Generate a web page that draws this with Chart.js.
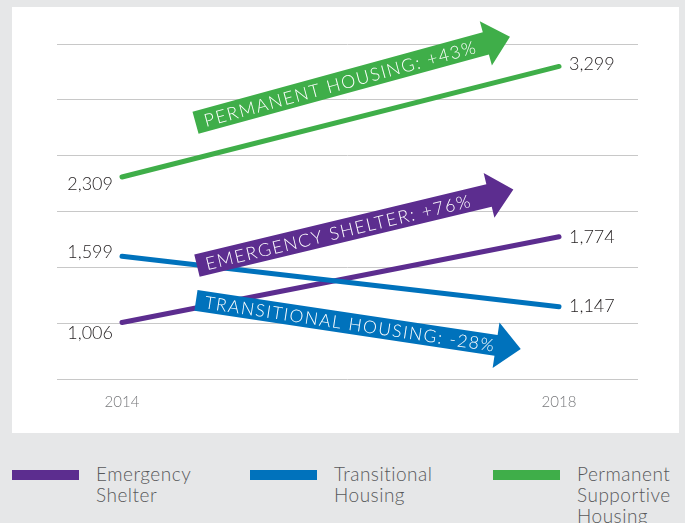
<!DOCTYPE html>
<html>
<head>
<meta charset="utf-8">
<script src="https://cdn.jsdelivr.net/npm/chart.js@4"></script>
<style>
  html, body { margin: 0; padding: 0; }
  body { width: 685px; height: 523px; background: #e6e7e8; position: relative; overflow: hidden;
         font-family: 'Lato', 'Open Sans', sans-serif; }
  #panel { position: absolute; left: 12px; top: 7px; width: 667px; height: 426px; background: #fff; }
  #legend { position: absolute; left: 12px; top: 463px; display: flex; }
  .item { display: flex; align-items: flex-start; }
  .swatch { width: 67px; height: 10px; margin-top: 7px; margin-right: 17px; flex: none; }
  .label { width: 116px; font-size: 19px; line-height: 21px; letter-spacing: 0.5px; color: #58595b; font-weight: 300; }
</style>
</head>
<body>
<div id="panel"><canvas id="chart"></canvas></div>
<div id="legend"></div>
<script>
// ---- data ----
const years = [2014, 2018];
const emergencyShelter = [1006, 1774];
const transitionalHousing = [1599, 1147];
const permanentSupportive = [2309, 3299];
const seriesNames = ['Emergency Shelter', 'Transitional Housing', 'Permanent Supportive Housing'];
const seriesColors = ['#5c2d8f', '#0072bc', '#3fae49'];
const yTickValues = [500, 1000, 1500, 2000, 2500, 3000, 3500];

// change arrows, from/to in data units (year, count)
const changeArrows = [
  { text: 'PERMANENT HOUSING: +43%', color: '#3fae49', from: [2014.673, 2795], to: [2017.551, 3565], width: 23, textLen: 284 },
  { text: 'EMERGENCY SHELTER: +76%', color: '#5c2d8f', from: [2014.686, 1515], to: [2017.582, 2196], width: 23, textLen: 275 },
  { text: 'TRANSITIONAL HOUSING: -28%', color: '#0072bc', from: [2014.677, 1205], to: [2017.650, 768], width: 21, textLen: 295 },
];

const allSeries = [emergencyShelter, transitionalHousing, permanentSupportive];
// vertical nudges for the end-point labels (left, right), per series
const labelNudge = [[11, 0], [-4, -1], [7, -2]];

const arrowPlugin = {
  id: 'changeArrows',
  afterDatasetsDraw(chart) {
    const { ctx, scales: { x, y } } = chart;
    ctx.save();
    changeArrows.forEach(a => {
      const tx = x.getPixelForValue(a.from[0]), ty = y.getPixelForValue(a.from[1]);
      const px = x.getPixelForValue(a.to[0]), py = y.getPixelForValue(a.to[1]);
      const len = Math.hypot(px - tx, py - ty);
      const ang = Math.atan2(py - ty, px - tx);
      const hl = 25, hw = 46, w = a.width;
      ctx.save();
      ctx.translate(tx, ty);
      ctx.rotate(ang);
      ctx.beginPath();
      ctx.moveTo(0, -w / 2);
      ctx.lineTo(len - hl, -w / 2);
      ctx.lineTo(len - hl, -hw / 2);
      ctx.lineTo(len, 0);
      ctx.lineTo(len - hl, hw / 2);
      ctx.lineTo(len - hl, w / 2);
      ctx.lineTo(0, w / 2);
      ctx.closePath();
      ctx.fillStyle = a.color;
      ctx.fill();
      // fit text to its length
      let size = 17;
      ctx.font = `300 ${size}px Lato, 'Open Sans', sans-serif`;
      ctx.letterSpacing = '1.5px';
      size = size * a.textLen / ctx.measureText(a.text).width;
      ctx.font = `300 ${size}px Lato, 'Open Sans', sans-serif`;
      ctx.fillStyle = '#ffffff';
      ctx.textAlign = 'left';
      ctx.textBaseline = 'middle';
      ctx.fillText(a.text, 9, 1);
      ctx.restore();
    });
    ctx.restore();
  }
};

const valueLabelPlugin = {
  id: 'valueLabels',
  afterDatasetsDraw(chart) {
    const { ctx } = chart;
    ctx.save();
    ctx.font = "300 18px Lato, 'Open Sans', sans-serif";
    ctx.fillStyle = '#231f20';
    ctx.textBaseline = 'middle';
    chart.data.datasets.forEach((ds, i) => {
      const pts = chart.getDatasetMeta(i).data;
      const fmt = v => v.toLocaleString('en-US');
      ctx.textAlign = 'right';
      ctx.fillText(fmt(ds.data[0].y), pts[0].x - 9, pts[0].y + labelNudge[i][0]);
      ctx.textAlign = 'left';
      const last = pts.length - 1;
      ctx.fillText(fmt(ds.data[last].y), pts[last].x + 10, pts[last].y + labelNudge[i][1]);
    });
    ctx.restore();
  }
};

const chart = new Chart(document.getElementById('chart'), {
  type: 'line',
  data: {
    datasets: allSeries.map((vals, i) => ({
      label: seriesNames[i],
      data: vals.map((v, j) => ({ x: years[j], y: v })),
      borderColor: seriesColors[i],
      backgroundColor: seriesColors[i],
      borderWidth: 5,
      borderCapStyle: 'round',
      pointRadius: 0,
      order: [2, 1, 3][i],
    })),
  },
  options: {
    responsive: true,
    maintainAspectRatio: false,
    animation: false,
    layout: { padding: { left: 45, right: 41, top: 37, bottom: 8 } },
    plugins: { legend: { display: false }, tooltip: { enabled: false } },
    scales: {
      x: {
        type: 'linear',
        min: 2013.405,
        max: 2018.723,
        afterBuildTicks: axis => { axis.ticks = years.map(v => ({ value: v })); },
        grid: { display: false, drawTicks: false },
        border: { display: false },
        ticks: {
          padding: 14,
          color: '#77787b',
          font: { family: "Lato, 'Open Sans', sans-serif", size: 15, weight: '300' },
          callback: v => String(v),
        },
      },
      y: {
        min: 500,
        max: 3500,
        afterBuildTicks: axis => { axis.ticks = yTickValues.map(v => ({ value: v })); },
        grid: { color: '#c8c8c8', lineWidth: 1, drawTicks: false },
        border: { display: false },
        ticks: { display: false },
      },
    },
  },
  plugins: [arrowPlugin, valueLabelPlugin],
});

// html legend
const legend = document.getElementById('legend');
const itemWidths = [238, 243, 200];
chart.data.datasets.forEach((ds, i) => {
  const item = document.createElement('div');
  item.className = 'item';
  item.style.width = itemWidths[i] + 'px';
  item.innerHTML = `<div class="swatch" style="background:${ds.borderColor}"></div><div class="label">${ds.label}</div>`;
  legend.appendChild(item);
});
</script>
</body>
</html>
